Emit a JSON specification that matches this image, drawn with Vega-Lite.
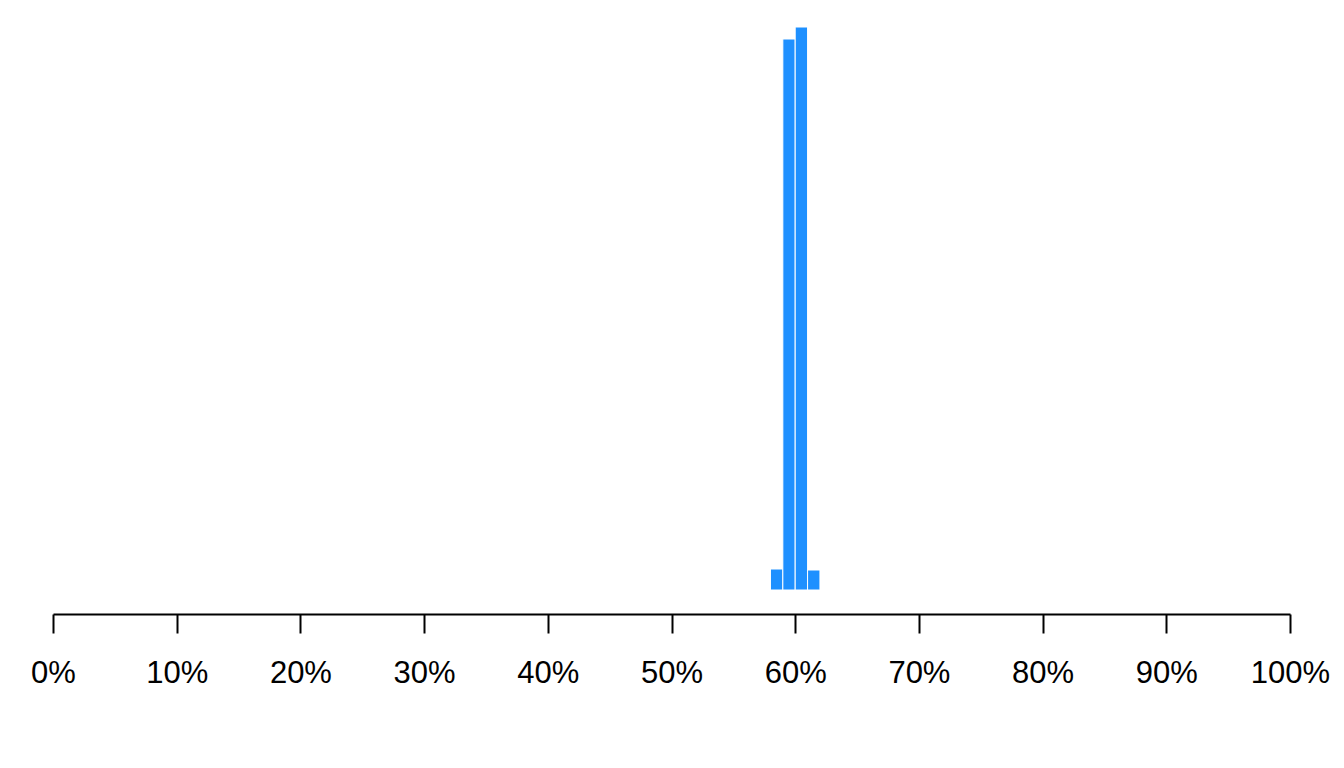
{
  "$schema": "https://vega.github.io/schema/vega-lite/v6.json",
  "width": 1237,
  "height": 563,
  "autosize": "none",
  "padding": {"left": 53, "top": 27, "right": 54, "bottom": 178},
  "background": "white",
  "config": {"view": {"stroke": null}},
  "data": {"values": [
    {"bin_start": 0.58, "bin_end": 0.59, "count": 21},
    {"bin_start": 0.59, "bin_end": 0.60, "count": 551},
    {"bin_start": 0.60, "bin_end": 0.61, "count": 563},
    {"bin_start": 0.61, "bin_end": 0.62, "count": 20}
  ]},
  "mark": {"type": "rect", "color": "#1E90FF", "stroke": "white", "strokeWidth": 1},
  "encoding": {
    "x": {
      "field": "bin_start", "type": "quantitative",
      "scale": {"domain": [0, 1], "nice": false, "zero": false},
      "axis": {
        "title": null, "format": ".0%", "values": [0,0.1,0.2,0.3,0.4,0.5,0.6,0.7,0.8,0.9,1],
        "offset": 24, "grid": false,
        "domainColor": "black", "domainWidth": 2, "tickColor": "black", "tickWidth": 2, "tickSize": 19,
        "labelFont": "Liberation Sans", "labelFontSize": 31, "labelColor": "black", "labelPadding": 25,
        "labelFlush": false, "labelOverlap": false
      }
    },
    "x2": {"field": "bin_end"},
    "y": {"field": "count", "type": "quantitative", "scale": {"domain": [0, 563], "nice": false}, "axis": null},
    "y2": {"datum": 0}
  }
}
